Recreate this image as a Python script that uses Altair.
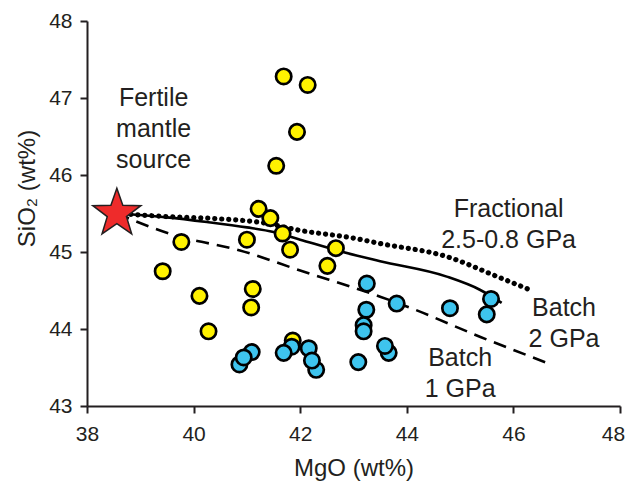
import altair as alt
import pandas as pd

# --- data ---
yellow_mgo = [41.69, 42.14, 41.94, 41.55, 41.22, 41.44, 41.67, 41.81, 42.67, 42.51,
              39.77, 41.00, 39.42, 40.11, 41.11, 41.08, 40.28, 41.86]
yellow_sio2 = [47.28, 47.17, 46.56, 46.12, 45.56, 45.44, 45.24, 45.03, 45.05, 44.82,
               45.13, 45.16, 44.75, 44.43, 44.52, 44.28, 43.97, 43.85]

blue_mgo = [41.09, 40.86, 40.94, 41.84, 41.69, 42.16, 42.30, 42.22, 43.25, 43.24,
            43.19, 43.19, 43.66, 43.59, 43.09, 43.81, 44.81, 45.50, 45.58]
blue_sio2 = [43.70, 43.54, 43.63, 43.77, 43.69, 43.75, 43.47, 43.59, 44.59, 44.25,
             44.05, 43.97, 43.69, 43.78, 43.57, 44.33, 44.27, 44.19, 44.39]

source_mgo = [38.56]
source_sio2 = [45.50]

frac_mgo = [38.56, 39.5, 40.5, 41.3, 42.0, 43.0, 43.5, 44.75, 45.7, 46.34]
frac_sio2 = [45.50, 45.46, 45.43, 45.38, 45.28, 45.18, 45.11, 44.94, 44.68, 44.50]

batch2_mgo = [38.56, 39.5, 40.25, 41.0, 41.5, 42.0, 42.8, 43.5, 44.75, 45.37, 45.78]
batch2_sio2 = [45.50, 45.45, 45.39, 45.32, 45.26, 45.16, 45.00, 44.88, 44.68, 44.51, 44.34]

batch1_mgo = [38.56, 39.63, 40.87, 42.0, 43.5, 44.12, 45.37, 46.63]
batch1_sio2 = [45.50, 45.22, 45.02, 44.76, 44.42, 44.26, 43.90, 43.56]

# annotation anchors (first line of each label)
label_text = ["Fertile\nmantle\nsource", "Fractional\n2.5-0.8 GPa", "Batch\n2 GPa", "Batch\n1 GPa"]
label_mgo = [39.25, 45.91, 46.95, 45.00]
label_sio2 = [47.00, 45.56, 44.27, 43.62]

x_ticks = [38, 40, 42, 44, 46, 48]
y_ticks = [43, 44, 45, 46, 47, 48]

FONT = "Liberation Sans"
INK = "#231F20"

xs = alt.Scale(domain=[38, 48], nice=False, zero=False)
ys = alt.Scale(domain=[43, 48], nice=False, zero=False)

xenc = alt.X("mgo:Q", scale=xs,
             axis=alt.Axis(values=x_ticks, title="MgO (wt%)", titleY=62, titleBaseline="middle",
                           labelOffset={"condition": {"test": "datum.value == 48", "value": -7},
                                        "value": 0}))
yenc = alt.Y("sio2:Q", scale=ys,
             axis=alt.Axis(values=y_ticks, title="SiO₂ (wt%)", titleX=-60, titleY=167,
                           titleBaseline="middle"))

def df(x, y):
    return pd.DataFrame({"mgo": x, "sio2": y})

frac = alt.Chart(df(frac_mgo, frac_sio2)).mark_line(
    color="black", strokeWidth=5.2, strokeDash=[0.1, 6.9], strokeCap="round",
    interpolate="monotone").encode(x=xenc, y=yenc)
batch2 = alt.Chart(df(batch2_mgo, batch2_sio2)).mark_line(
    color="black", strokeWidth=2.6, interpolate="monotone").encode(x=xenc, y=yenc)
batch1 = alt.Chart(df(batch1_mgo, batch1_sio2)).mark_line(
    color="black", strokeWidth=2.6, strokeDash=[13, 8], interpolate="monotone").encode(x=xenc, y=yenc)

yellow = alt.Chart(df(yellow_mgo, yellow_sio2)).mark_point(
    shape="circle", filled=True, fill="#FFF200", stroke="black", strokeWidth=2.7,
    size=235, opacity=1).encode(x=xenc, y=yenc)
blue = alt.Chart(df(blue_mgo, blue_sio2)).mark_point(
    shape="circle", filled=True, fill="#3EC4EE", stroke="black", strokeWidth=2.7,
    size=235, opacity=1).encode(x=xenc, y=yenc)

star_path = ("M0,-1L0.2351,-0.3236L0.9511,-0.309L0.3804,0.1236L0.5878,0.809"
             "L0,0.4L-0.5878,0.809L-0.3804,0.1236L-0.9511,-0.309L-0.2351,-0.3236Z")
star = alt.Chart(df(source_mgo, source_sio2)).mark_point(
    shape=star_path, filled=True, fill="#EE2B2B", stroke=INK, strokeWidth=1.5,
    size=2550, opacity=1).encode(x=xenc, y=yenc)

labels = alt.Chart(pd.DataFrame({"mgo": label_mgo, "sio2": label_sio2, "t": label_text})).mark_text(
    font=FONT, fontSize=25, color=INK, align="center", baseline="middle",
    lineBreak="\n", lineHeight=31).encode(x=xenc, y=yenc, text="t:N")

chart = alt.layer(frac, batch2, batch1, yellow, blue, star, labels).properties(
    width=533, height=385,
    autosize=alt.AutoSizeParams(type="none"),
    padding={"left": 87, "top": 21, "right": 8, "bottom": 76},
).configure_view(stroke=None).configure_axis(
    grid=False, domainColor=INK, domainWidth=2, tickColor=INK, tickWidth=2, tickSize=7,
    labelFont=FONT, labelFontSize=21, labelColor=INK, labelFlush=False,
    titleFont=FONT, titleFontSize=24, titleColor=INK, titleFontWeight="normal",
).configure_axisX(labelPadding=10).configure_axisY(labelPadding=8)

chart.save("out.html", embed_options={"renderer": "svg", "actions": False})
